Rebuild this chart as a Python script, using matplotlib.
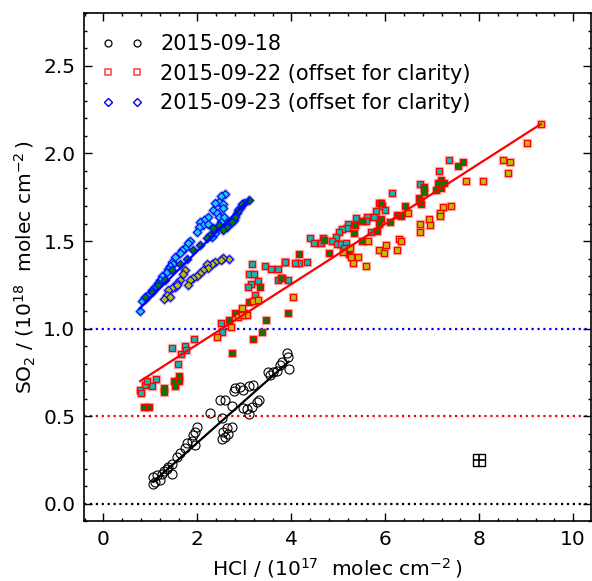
import matplotlib
matplotlib.use('Agg')
import matplotlib.pyplot as plt
from matplotlib.lines import Line2D
from matplotlib.ticker import MultipleLocator
import numpy as np

# 2015-09-18 (no offset)
hcl_18 = [3.90, 3.92, 3.80, 3.94, 3.76, 3.69, 3.62, 3.51, 3.55, 3.19, 3.09, 2.98, 2.91, 2.80, 2.77,
          3.26, 3.32, 3.16, 3.05, 2.98, 3.09, 2.59, 2.48, 2.73, 2.27, 2.52, 2.73, 2.63, 2.66, 2.52,
          2.59, 2.54, 1.99, 1.95, 1.91, 1.88, 1.95, 1.77, 1.74, 1.63, 1.56, 1.45, 1.38, 1.45, 1.35,
          1.28, 1.24, 1.14, 1.06, 1.10, 1.06, 1.21]
so2_18 = [0.859, 0.84, 0.81, 0.77, 0.79, 0.76, 0.75, 0.75, 0.735, 0.68, 0.67, 0.65, 0.665, 0.66, 0.645,
          0.58, 0.59, 0.555, 0.54, 0.545, 0.51, 0.59, 0.59, 0.56, 0.52, 0.49, 0.44, 0.43, 0.40, 0.37,
          0.38, 0.41, 0.44, 0.41, 0.39, 0.36, 0.335, 0.345, 0.32, 0.29, 0.27, 0.23, 0.21, 0.17, 0.20,
          0.19, 0.17, 0.165, 0.155, 0.125, 0.115, 0.135]

# 2015-09-22 (offset +0.5), three sub-sets by face colour
hcl_22_c = [7.35, 7.14, 6.73, 6.14, 5.86, 5.93, 5.99, 5.80, 5.38, 5.62, 5.75, 5.60, 5.20, 5.19, 5.08,
            5.01, 4.95, 4.40, 4.48, 4.67, 4.63, 4.86, 4.97, 5.05, 5.16, 5.12, 4.33, 4.16, 4.08, 3.86,
            3.92, 5.69, 2.50, 2.53, 1.93, 1.46, 1.74, 1.75, 1.65, 1.58, 1.11, 1.03, 0.89, 0.78, 0.80,
            0.92, 3.17, 3.44, 3.57, 3.72, 3.87, 3.10, 3.21, 3.28, 3.14, 3.08, 3.72, 3.23]
so2_22_c = [1.96, 1.90, 1.825, 1.775, 1.72, 1.70, 1.675, 1.67, 1.63, 1.64, 1.64, 1.615, 1.60, 1.575, 1.57,
            1.55, 1.525, 1.52, 1.49, 1.52, 1.49, 1.50, 1.485, 1.485, 1.49, 1.46, 1.38, 1.377, 1.375, 1.38,
            1.275, 1.55, 1.03, 0.98, 0.94, 0.89, 0.90, 0.88, 0.855, 0.80, 0.71, 0.67, 0.68, 0.65, 0.63,
            0.70, 1.37, 1.355, 1.34, 1.34, 1.38, 1.31, 1.31, 1.27, 1.255, 1.235, 1.275, 1.19]
hcl_22_g = [7.65, 7.55, 7.19, 7.12, 7.25, 7.09, 7.19, 6.82, 6.83, 6.72, 6.76, 6.74, 6.43, 6.34, 6.26,
            6.11, 5.91, 5.91, 5.87, 5.82, 5.33, 5.50, 5.35, 5.51, 4.69, 4.81, 5.23, 4.17, 3.80, 2.81,
            2.67, 3.00, 3.46, 3.38, 3.18, 3.92, 2.74, 1.61, 1.50, 1.61, 1.53, 1.30, 1.28, 0.87, 0.97,
            3.09, 3.33, 3.77]
so2_22_g = [1.95, 1.93, 1.85, 1.83, 1.83, 1.79, 1.80, 1.81, 1.78, 1.745, 1.71, 1.73, 1.70, 1.645, 1.65,
            1.61, 1.72, 1.625, 1.60, 1.555, 1.545, 1.615, 1.59, 1.50, 1.505, 1.43, 1.425, 1.425, 1.29, 1.09,
            1.05, 1.09, 1.05, 0.98, 0.94, 1.09, 0.86, 0.73, 0.70, 0.70, 0.67, 0.66, 0.64, 0.55, 0.555,
            1.15, 1.235, 1.29]
hcl_22_y = [9.31, 9.01, 8.50, 8.65, 8.61, 7.71, 8.09, 7.23, 7.41, 7.16, 7.16, 6.93, 6.75, 6.95, 6.74,
            6.29, 6.33, 6.01, 5.87, 6.26, 5.98, 5.43, 5.31, 5.26, 5.24, 5.11, 5.63, 5.59, 4.03, 6.49,
            2.41, 2.71, 2.94, 2.87, 3.06, 2.96, 3.18, 3.28]
so2_22_y = [2.17, 2.06, 1.96, 1.95, 1.89, 1.84, 1.845, 1.695, 1.70, 1.66, 1.645, 1.625, 1.60, 1.59, 1.55,
            1.51, 1.50, 1.48, 1.45, 1.45, 1.43, 1.41, 1.375, 1.41, 1.46, 1.44, 1.50, 1.36, 1.18, 1.66,
            0.955, 1.01, 1.12, 1.065, 1.08, 1.08, 1.16, 1.165]

# 2015-09-23 (offset +1.0)
hcl_23_c = [2.59, 2.50, 2.45, 2.38, 2.55, 2.34, 2.41, 2.55, 2.45, 2.23, 2.14, 2.06, 2.13, 2.04, 2.23,
            1.99, 1.84, 1.79, 1.74, 1.67, 1.63, 1.53, 1.46, 1.49, 1.42, 1.38, 1.35, 1.24, 1.21, 1.17,
            1.10, 1.03, 0.96, 0.89, 0.82, 0.77, 2.99, 2.91, 2.84, 2.77, 2.66, 2.57, 2.50, 2.38, 2.31]
so2_23_c = [1.77, 1.755, 1.725, 1.715, 1.71, 1.68, 1.66, 1.69, 1.64, 1.64, 1.62, 1.61, 1.59, 1.58, 1.60,
            1.55, 1.50, 1.49, 1.46, 1.45, 1.43, 1.41, 1.38, 1.37, 1.355, 1.34, 1.325, 1.30, 1.28, 1.26,
            1.24, 1.22, 1.20, 1.17, 1.155, 1.10, 1.715, 1.69, 1.66, 1.62, 1.60, 1.64, 1.61, 1.545, 1.525]
hcl_23_g = [3.09, 2.94, 2.87, 2.80, 2.73, 2.63, 2.55, 2.45, 2.34, 2.27, 2.20, 2.06, 1.91, 1.77, 1.63,
            1.46, 1.31, 1.17, 1.03, 0.89]
so2_23_g = [1.735, 1.71, 1.68, 1.64, 1.61, 1.58, 1.565, 1.59, 1.575, 1.535, 1.515, 1.48, 1.45, 1.40, 1.37,
            1.335, 1.28, 1.25, 1.21, 1.18]
hcl_23_y = [2.67, 2.55, 2.50, 2.38, 2.31, 2.20, 2.23, 2.13, 2.06, 1.99, 1.91, 1.84, 1.74, 1.70, 1.63,
            1.56, 1.53, 1.46, 1.38, 1.35, 1.28, 1.42, 1.56, 1.81]
so2_23_y = [1.395, 1.405, 1.39, 1.38, 1.37, 1.37, 1.345, 1.335, 1.32, 1.30, 1.29, 1.28, 1.335, 1.31, 1.28,
            1.26, 1.24, 1.23, 1.22, 1.19, 1.17, 1.18, 1.25, 1.25]

# linear fits: slope, intercept, x range
fit_18 = [0.238, -0.127, 1.06, 3.94]
fit_22 = [0.172, 0.566, 0.78, 9.31]
fit_23 = [0.267, 0.909, 0.77, 3.09]
offsets = [0.0, 0.5, 1.0]

# typical uncertainty
err_x, err_y = [8.0], [0.25]
err_dx, err_dy = [0.13], [0.035]

fig = plt.figure(figsize=(5.92, 5.81), dpi=100)
ax = fig.add_axes([0.1414, 0.1027, 0.8569, 0.8744])

for off, col in zip(offsets, ['k', 'r', 'b']):
    ax.axhline(off, color=col, ls=':', lw=1.6, zorder=1)

# 09-18
ax.plot(hcl_18, so2_18, 'o', mfc='none', mec='k', mew=0.8, ms=6.5, zorder=3)
xf = np.array(fit_18[2:])
ax.plot(xf, fit_18[0] * xf + fit_18[1], 'k-', lw=1.6, zorder=4)

# 09-22
for xs, ys, fc in [(hcl_22_c, so2_22_c, 'c'), (hcl_22_g, so2_22_g, 'g'), (hcl_22_y, so2_22_y, 'y')]:
    ax.plot(xs, ys, 's', mfc=fc, mec=(1, 0, 0, 0.3), mew=2.4, ms=4.6, zorder=3)
    ax.plot(xs, ys, 's', mfc=fc, mec='r', mew=0.9, ms=4.6, zorder=3)
xf = np.array(fit_22[2:])
ax.plot(xf, fit_22[0] * xf + fit_22[1], 'r-', lw=1.6, zorder=4)

# 09-23
for xs, ys, fc in [(hcl_23_c, so2_23_c, (0.1, 0.8, 0.9)), (hcl_23_g, so2_23_g, 'g'), (hcl_23_y, so2_23_y, 'y')]:
    ax.plot(xs, ys, 'D', mfc=fc, mec=(0, 0, 1, 0.3), mew=2.2, ms=4.2, zorder=3)
    ax.plot(xs, ys, 'D', mfc=fc, mec='b', mew=0.8, ms=4.2, zorder=3)
xf = np.array(fit_23[2:])
ax.plot(xf, fit_23[0] * xf + fit_23[1], 'b-', lw=1.6, zorder=4)

ax.errorbar(err_x, err_y, xerr=err_dx, yerr=err_dy, fmt='s', mfc='none', mec='k',
            ms=9, ecolor='k', elinewidth=1.2, capsize=0, zorder=5)

ax.set_xlim(-0.42, 10.38)
ax.set_ylim(-0.1, 2.8)
ax.xaxis.set_major_locator(MultipleLocator(2))
ax.xaxis.set_minor_locator(MultipleLocator(0.4))
ax.yaxis.set_major_locator(MultipleLocator(0.5))
ax.yaxis.set_minor_locator(MultipleLocator(0.1))
ax.tick_params(which='both', direction='in', top=True, right=True, width=1)
ax.tick_params(which='major', length=5.5, labelsize=14.5, pad=6)
ax.tick_params(which='minor', length=2.5)
for s in ax.spines.values():
    s.set_linewidth(1.2)

ax.set_xlabel(r'HCl / (10$^{17}$  molec cm$^{-2}\,$)', fontsize=14.5, labelpad=5)
ax.set_ylabel(r'SO$_2$ / (10$^{18}$  molec cm$^{-2}\,$)', fontsize=14.5, labelpad=4)

handles = [
    Line2D([], [], ls='none', marker='o', mfc='none', mec='k', ms=5, mew=0.9),
    Line2D([], [], ls='none', marker='s', mfc='none', mec=(1, 0.3, 0.3), ms=4.5, mew=1.2),
    Line2D([], [], ls='none', marker='D', mfc='none', mec='b', ms=4, mew=1.0),
]
labels = ['2015-09-18', '2015-09-22 (offset for clarity)', '2015-09-23 (offset for clarity)']
ax.legend(handles, labels, loc='upper left', numpoints=2, frameon=False, fontsize=15,
          handlelength=2.0, handletextpad=0.8, labelspacing=0.45, borderaxespad=0.6,
          bbox_to_anchor=(-0.005, 1.0))

fig.savefig('out.png', dpi=100)
